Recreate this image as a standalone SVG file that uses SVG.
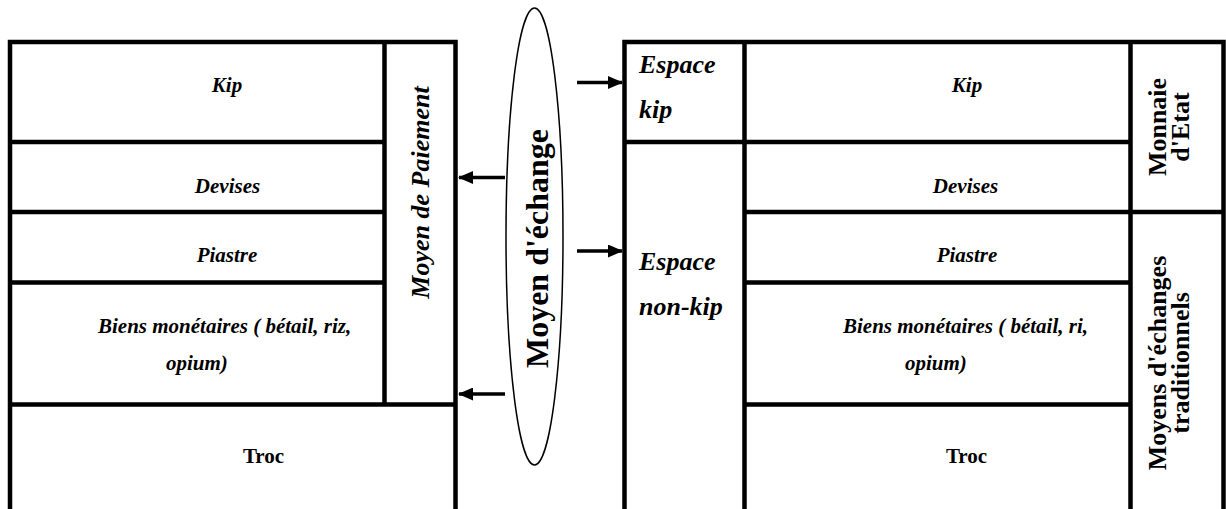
<svg xmlns="http://www.w3.org/2000/svg" width="1226" height="509" viewBox="0 0 1226 509">
<style>
.ln{stroke:#000;stroke-width:4.5;fill:none;stroke-linecap:square}
.t{font-family:"Liberation Serif","Times New Roman",serif;font-weight:bold;fill:#000}
.c{font-size:21px;font-style:italic}
.tr{font-size:21px}
.sp{font-size:26px;font-style:italic}
.lab{font-size:26px;text-anchor:middle}
.mid{text-anchor:middle}
.ar{stroke:#000;stroke-width:3.5;fill:none}
</style>
<defs>
<marker id="ah" viewBox="0 0 15 13" refX="14" refY="6.5" markerWidth="15" markerHeight="13" orient="auto" markerUnits="userSpaceOnUse">
<path d="M0,0 L15,6.5 L0,13 z" fill="#000"/>
</marker>
</defs>
<rect width="1226" height="509" fill="#fff"/>

<g id="left-table">
<path class="ln" d="M10,509 V42 H455.5 V509 M384.5,42 V404.5 M10,142 H384.5 M10,212 H384.5 M10,282.5 H384.5 M10,404.5 H455.5"/>
<text class="t c mid" x="227" y="92">Kip</text>
<text class="t c mid" x="227.5" y="193">Devises</text>
<text class="t c mid" x="227" y="262">Piastre</text>
<text class="t c" x="98" y="333">Biens monétaires ( bétail, riz,</text>
<text class="t c" x="166" y="370">opium)</text>
<text class="t tr mid" x="263.5" y="463">Troc</text>
<text class="t mid" font-size="26" font-style="italic" transform="translate(429,192.5) rotate(-90)">Moyen de Paiement</text>
</g>

<g id="ellipse-node">
<ellipse cx="534.5" cy="236.5" rx="28.5" ry="228.5" fill="none" stroke="#000" stroke-width="1.5"/>
<text class="t mid" font-size="32" transform="translate(548,248.5) rotate(-90)">Moyen d'échange</text>
</g>

<g id="right-table">
<path class="ln" d="M624.5,509 V42 H1223.5 V509 M744.5,42 V509 M1130.5,42 V509 M624.5,142 H1130.5 M744.5,212 H1223.5 M744.5,282.5 H1130.5 M744.5,404.5 H1130.5"/>
<text class="t sp" x="639" y="73">Espace</text>
<text class="t sp" x="639" y="118">kip</text>
<text class="t sp" x="639" y="270">Espace</text>
<text class="t sp" x="639" y="315">non-kip</text>
<text class="t c mid" x="967" y="92">Kip</text>
<text class="t c mid" x="965.5" y="193">Devises</text>
<text class="t c mid" x="967" y="262">Piastre</text>
<text class="t c" x="843" y="333">Biens monétaires ( bétail, ri,</text>
<text class="t c" x="905" y="370">opium)</text>
<text class="t tr mid" x="966.5" y="463">Troc</text>
<text class="t lab" transform="translate(1166,127) rotate(-90)">Monnaie</text>
<text class="t lab" transform="translate(1189,127) rotate(-90)">d'Etat</text>
<text class="t lab" transform="translate(1166,363) rotate(-90)">Moyens d'échanges</text>
<text class="t lab" transform="translate(1189,363) rotate(-90)">traditionnels</text>
</g>

<g id="connectors">
<line class="ar" x1="505" y1="177.5" x2="459" y2="177.5" marker-end="url(#ah)"/>
<line class="ar" x1="505" y1="394" x2="459" y2="394" marker-end="url(#ah)"/>
<line class="ar" x1="577" y1="82.5" x2="622" y2="82.5" marker-end="url(#ah)"/>
<line class="ar" x1="577" y1="251" x2="622" y2="251" marker-end="url(#ah)"/>
</g>
</svg>
